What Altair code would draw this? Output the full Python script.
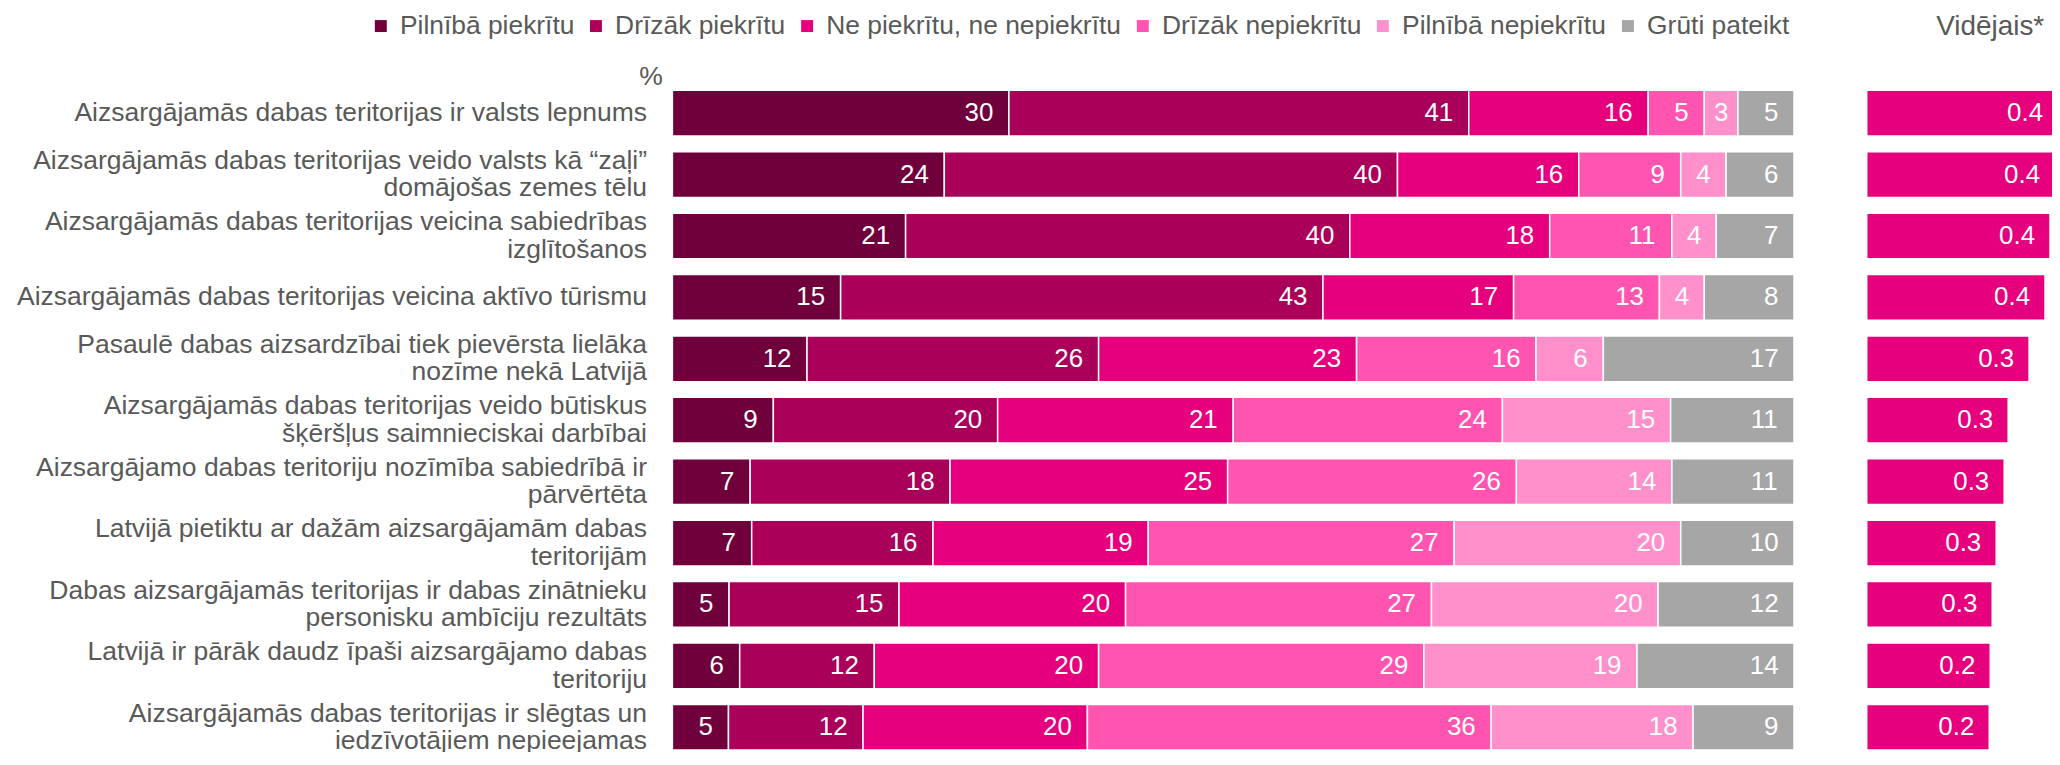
import altair as alt
import pandas as pd

statements = [
    "Aizsargājamās dabas teritorijas ir valsts lepnums",
    "Aizsargājamās dabas teritorijas veido valsts kā “zaļi”|domājošas zemes tēlu",
    "Aizsargājamās dabas teritorijas veicina sabiedrības|izglītošanos",
    "Aizsargājamās dabas teritorijas veicina aktīvo tūrismu",
    "Pasaulē dabas aizsardzībai tiek pievērsta lielāka|nozīme nekā Latvijā",
    "Aizsargājamās dabas teritorijas veido būtiskus|šķēršļus saimnieciskai darbībai",
    "Aizsargājamo dabas teritoriju nozīmība sabiedrībā ir|pārvērtēta",
    "Latvijā pietiktu ar dažām aizsargājamām dabas|teritorijām",
    "Dabas aizsargājamās teritorijas ir dabas zinātnieku|personisku ambīciju rezultāts",
    "Latvijā ir pārāk daudz īpaši aizsargājamo dabas|teritoriju",
    "Aizsargājamās dabas teritorijas ir slēgtas un|iedzīvotājiem nepieejamas",
]

categories = [
    "Pilnībā piekrītu",
    "Drīzāk piekrītu",
    "Ne piekrītu, ne nepiekrītu",
    "Drīzāk nepiekrītu",
    "Pilnībā nepiekrītu",
    "Grūti pateikt",
]
colors = ["#70003C", "#AA005A", "#E6007E", "#FF55B0", "#FF90CC", "#A6A6A6"]

pilniba_piekritu = [30, 24, 21, 15, 12, 9, 7, 7, 5, 6, 5]
drizak_piekritu = [41, 40, 40, 43, 26, 20, 18, 16, 15, 12, 12]
ne_piekritu_ne_nepiekritu = [16, 16, 18, 17, 23, 21, 25, 19, 20, 20, 20]
drizak_nepiekritu = [5, 9, 11, 13, 16, 24, 26, 27, 27, 29, 36]
pilniba_nepiekritu = [3, 4, 4, 4, 6, 15, 14, 20, 20, 19, 18]
gruti_pateikt = [5, 6, 7, 8, 17, 11, 11, 10, 12, 14, 9]

videjais = [0.398, 0.378, 0.368, 0.358, 0.326, 0.284, 0.276, 0.260, 0.252, 0.248, 0.246]

series = [
    pilniba_piekritu,
    drizak_piekritu,
    ne_piekritu_ne_nepiekritu,
    drizak_nepiekritu,
    pilniba_nepiekritu,
    gruti_pateikt,
]

rows = []
for ci, (cat, vals) in enumerate(zip(categories, series)):
    for s, v in zip(statements, vals):
        rows.append({"stmt": s, "cat": cat, "order": ci, "val": v})
df = pd.DataFrame(rows)
df_avg = pd.DataFrame({"stmt": statements, "avg": videjais})

FONT = "Liberation Sans"
GREY = "#595959"
FS = 26.6
LINE_H = 27.5

# layout (pixels)
LEFT_W = 1126          # stacked-bar panel width
GAP = 73               # gap between panels
RIGHT_W = 200          # average panel width (0 .. 0.4)
PAD_LEFT = 667
PAD_TOP = 73.3
SVG_W = 2052
SVG_H = 744
VIEW_W = SVG_W - PAD_LEFT
STEP = 61.65
BAND_RANGE = 11 * STEP
VIEW_H = SVG_H - PAD_TOP

left_x_scale = alt.Scale(domain=[0, 1], range=[0, LEFT_W])
right_x_scale = alt.Scale(domain=[0, 0.4], range=[LEFT_W + GAP, LEFT_W + GAP + RIGHT_W])
y_scale = alt.Scale(paddingInner=0.256, paddingOuter=0.128, range=[0, BAND_RANGE])

y_enc = alt.Y(
    "stmt:N",
    sort=statements,
    scale=y_scale,
    axis=alt.Axis(
        labelExpr="split(datum.label, '|')",
        labelFontSize=FS,
        labelFont=FONT,
        labelColor=GREY,
        labelLimit=900,
        labelPadding=26,
        labelLineHeight=LINE_H,
        labelOffset={
            "condition": {"test": "indexof(datum.value, '|') >= 0", "value": -LINE_H / 2},
            "value": 0,
        },
        ticks=False,
        domain=False,
        grid=False,
        title="%",
        titleAngle=0,
        titleAlign="right",
        titleBaseline="alphabetic",
        titleX=-10,
        titleY=2,
        titleFontSize=FS,
        titleFont=FONT,
        titleFontWeight="normal",
        titleColor=GREY,
    ),
)

stacked = alt.Chart(df).transform_stack(
    stack="val",
    groupby=["stmt"],
    as_=["x0", "x1"],
    offset="normalize",
    sort=[alt.SortField("order", order="ascending")],
).transform_calculate(
    pad="(16 + 7 * length(toString(datum.val))) / %d" % LEFT_W,
    pos="datum.x1 - min((datum.x1 - datum.x0) / 2, datum.pad)",
)

bars = stacked.mark_bar(stroke="white", strokeWidth=1.5).encode(
    x=alt.X("x0:Q", scale=left_x_scale, axis=None),
    x2="x1:Q",
    y=y_enc,
    color=alt.Color(
        "cat:N",
        scale=alt.Scale(domain=categories, range=colors),
        legend=alt.Legend(
            title=None,
            orient="none",
            direction="horizontal",
            legendX=-306,
            legendY=-70,
            symbolType="square",
            symbolSize=144,
            symbolStrokeWidth=0,
            labelFontSize=26.5,
            labelFont=FONT,
            labelColor=GREY,
            labelOffset=6,
            columnPadding=8,
            padding=0,
            labelLimit=500,
        ),
    ),
)

bar_text = stacked.mark_text(
    align="center", baseline="middle", color="white", fontSize=26, font=FONT
).encode(
    x=alt.X("pos:Q", scale=left_x_scale, axis=None),
    y=y_enc,
    text="val:Q",
)

avg_base = alt.Chart(df_avg).transform_calculate(
    tpos="min(datum.avg, 0.384)"
)
avg_bars = avg_base.mark_bar(color="#E6007E", stroke="white", strokeWidth=1.5).encode(
    x=alt.X(
        "avg:Q",
        scale=right_x_scale,
        axis=alt.Axis(
            orient="top",
            labels=False,
            ticks=False,
            domain=False,
            grid=False,
            title="Vidējais*",
            titleFontSize=28,
            titleFont=FONT,
            titleFontWeight="normal",
            titleColor=GREY,
            titleBaseline="alphabetic",
            titleAlign="center",
            titleX=1322.5,
            titleY=-48.5,
        ),
    ),
    y=y_enc,
)
avg_text = avg_base.mark_text(
    align="right", baseline="middle", color="white", fontSize=26, font=FONT, dx=-15
).encode(
    x=alt.X("tpos:Q", scale=right_x_scale, axis=None),
    y=y_enc,
    text=alt.Text("avg:Q", format=".1f"),
)

chart = (
    alt.layer(bars, bar_text, avg_bars, avg_text)
    .resolve_scale(x="independent")
    .properties(
        width=VIEW_W,
        height=VIEW_H,
        autosize=alt.AutoSizeParams(type="none"),
        padding={"left": PAD_LEFT, "top": PAD_TOP, "right": 0, "bottom": 0},
    )
    .configure_view(stroke=None)
)

chart.save("out.html", embed_options={"renderer": "svg", "actions": False})
